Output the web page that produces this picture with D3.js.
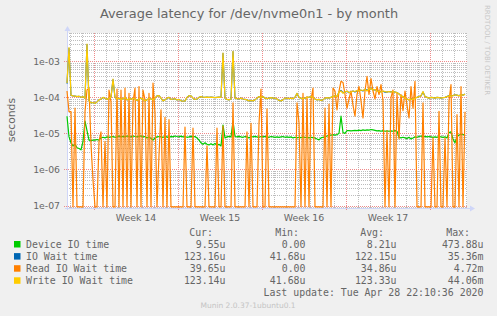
<!DOCTYPE html>
<html>
<head>
<meta charset="utf-8">
<script src="https://cdn.jsdelivr.net/npm/d3@7"></script>
<style>
  body { margin: 0; background: #f0f0f0; }
  svg text { font-family: "DejaVu Sans", sans-serif; fill: #666666; }
  svg text.mono { font-family: "DejaVu Sans Mono", monospace; }
</style>
</head>
<body>
<div id="chart"></div>
<script>
// series values in microseconds, one sample every 4 hours (0 = no reads)
var deviceIO = [
  30,8,5.5,4.5,5,4,3.8,3.5,6,22,
  12,6.5,6.3,6.5,6.5,6.8,6.5,7.5,7.8,7.5,
  8,7.8,8,8.2,7.8,8,8.5,8,8.3,8,
  8.5,8.2,8,8.5,8.2,8,8.3,8.5,8,8.2,
  7.5,8,7.2,6.5,7.5,8,8.2,8,7.8,8.2,
  8,7.5,8.3,8,8.5,8.2,8,8.4,8,8.2,
  7.8,8,8.3,8,8.2,7.5,6.5,5.5,5,5.5,
  5,4.8,5.2,4.8,5.3,4.6,5,4.5,17,7.5,
  8,8.3,8,22,8.2,8,8.3,8,7.8,8.2,
  8,7.5,8.2,8,8.3,8,7.8,8.2,8,8.3,
  8,7.8,8.2,8,7.8,8,7.8,8,8.2,7.8,
  8,7.8,8,7.5,7.8,7.5,7.8,7.6,8,7.7,
  7.8,7.5,7.8,7.6,7.5,7,6.6,7.5,7.8,8,
  8.5,8.8,9,9.2,9,9.3,10,30,10.5,10,
  12,12,11.8,12,12.2,12,12.3,12,12.5,12.2,
  12.5,12.3,12.8,12.5,12.2,11.8,12,11.5,12,11.5,
  11.8,11.5,11.8,11.5,12,11.5,7.8,7.5,7.8,7.5,
  7.2,7.8,7,7.5,8,7.8,8.2,8.5,8,8.3,
  8,8.2,8,7.8,8,7.8,8.2,8,7.8,8,
  7.5,10.5,11,7,5.5,8,9,9.5,9.2,9.55
];

var ioWait = [
  240,2300,114,110,108,105,107,100,104,95,
  2900,80,70,72,68,75,85,90,99,95,
  88,95,100,310,100,90,95,88,92,100,
  85,92,88,95,90,82,90,95,88,80,
  85,95,90,85,95,110,112,95,80,85,
  95,100,88,90,92,85,88,80,78,80,
  100,112,110,95,88,90,100,105,102,100,
  102,100,102,100,98,100,102,100,1650,95,
  88,85,90,1850,95,92,90,95,90,88,
  85,80,82,80,85,95,105,100,105,95,
  92,95,98,95,95,90,82,80,85,95,
  95,92,95,92,100,128,100,95,92,95,
  100,102,105,100,90,85,88,82,85,95,
  98,95,100,105,110,105,140,155,135,140,
  148,135,142,150,140,152,155,158,150,168,
  160,165,180,160,162,155,145,145,148,140,
  140,145,142,145,140,135,125,110,105,95,
  90,85,92,88,98,100,105,110,140,105,
  100,95,100,98,95,100,98,95,98,100,
  105,112,112,112,118,115,110,120,115,123
];

var readWait = [
  150,40,40,0,50,0,0,0,0,41,
  160,180,5,0.5,0,0,6,11,0,6,
  0,160,75,0,0,170,0,160,0,180,
  0,130,0,75,180,0,200,0,160,85,
  0,130,0,250,37,0,2.5,45,0,28,
  0,24,0,0,0,0,0,0,0,15,
  0,0,0,14,0,0,0,0,0,0,
  4.5,0,0,0,0,14,0,0,16,0,
  0,0,0,70,0,0,0,0,0,0,
  11,0,19,0,0,0,19,170,0,0,
  48,0,0,0,0,0,0,0,0,0,
  0,0,0,0,0,70,20,0,130,0,
  105,0,85,180,0,0,0,0,0,50,
  0,65,0,180,150,45,150,280,260,120,
  50,90,150,60,30,120,200,80,27,150,
  380,120,330,150,90,200,120,225,80,0,
  12,0,100,160,0,130,7,120,43,150,
  60,27,200,50,280,0,0,0,70,0,
  0,0,0,7.5,0,0,41,0,0,7.5,
  0,80,225,0,0,33,0,200,0,40
];

var writeWait = [
  250,2400,115,110,108,105,108,100,105,95,
  3000,80,70,72,68,75,85,90,100,95,
  88,95,100,320,100,90,95,88,92,100,
  85,92,88,95,90,82,90,95,88,80,
  85,95,90,85,95,110,112,95,80,85,
  95,100,88,90,92,85,88,80,78,80,
  100,112,110,95,88,90,100,105,102,100,
  102,100,102,100,98,100,102,100,1700,95,
  88,85,90,1900,95,92,90,95,90,88,
  85,80,82,80,85,95,105,100,105,95,
  92,95,98,95,95,90,82,80,85,95,
  95,92,95,92,100,130,100,95,92,95,
  100,102,105,100,90,85,88,82,85,95,
  98,95,100,105,110,105,140,150,130,140,
  150,135,140,150,145,155,150,160,155,165,
  150,170,175,160,165,150,145,140,150,145,
  140,145,140,145,140,135,125,110,105,95,
  90,85,90,88,95,100,105,110,145,105,
  100,95,100,98,95,100,98,95,98,100,
  105,110,108,112,118,115,110,118,115,123
];

var seriesNames = ["Device IO time", "IO Wait time", "Read IO Wait time", "Write IO Wait time"];
var seriesColors = ["#00cc00", "#0066b3", "#ff8000", "#ffcc00"];
var curValues = ["9.55u", "123.16u", "39.65u", "123.14u"];
var minValues = ["0.00", "41.68u", "0.00", "41.68u"];
var avgValues = ["8.21u", "122.15u", "34.86u", "123.33u"];
var maxValues = ["473.88u", "35.36m", "4.72m", "44.06m"];

var weekLabels = ["Week 14", "Week 15", "Week 16", "Week 17"];
var weekStarts = [2.25, 9.25, 16.25, 23.25, 30.25]; // in days from graph start
var decades = [1e-7, 1e-6, 1e-5, 1e-4, 1e-3];

var sampleStep = 1 / 6; // days between samples

var svgWidth = 497;
var svgHeight = 316;

var svg = d3.select("#chart")
  .append("svg")
  .attr("width", svgWidth)
  .attr("height", svgHeight);

var plot = { left: 67, right: 467, top: 33, bottom: 208 };

var yMin = 8.53e-8;
var yMax = 6.1e-3;

var xScale = d3.scaleLinear()
  .domain([0, 33.3333])
  .range([plot.left, plot.right]);

var yScale = d3.scaleLog()
  .domain([yMin, yMax])
  .range([plot.bottom, plot.top]);

// zero readings sit on the floor line just above the axis
var yFloor = yScale.invert(plot.bottom - 1.2);

// canvas
svg.append("rect")
  .attr("x", plot.left)
  .attr("y", plot.top)
  .attr("width", plot.right - plot.left)
  .attr("height", plot.bottom - plot.top)
  .attr("fill", "#ffffff");

// minor grid
var minorY = [];
decades.concat([1e-8]).forEach(function(dec) {
  for (var m = 2; m <= 9; m++) {
    var v = m * dec;
    if (v > yMin && v < yMax) minorY.push(v);
  }
});
var dayLines = d3.range(0.25, 33.3, 1);

var gridGroup = svg.append("g");

gridGroup.selectAll(".minor-y")
  .data(minorY)
  .enter()
  .append("line")
  .attr("x1", plot.left)
  .attr("x2", plot.right)
  .attr("y1", d => Math.round(yScale(d)) + 0.5)
  .attr("y2", d => Math.round(yScale(d)) + 0.5)
  .attr("stroke", "#bdbdbd")
  .attr("stroke-dasharray", "1,1");

gridGroup.selectAll(".minor-x")
  .data(dayLines)
  .enter()
  .append("line")
  .attr("x1", d => Math.round(xScale(d)) + 0.5)
  .attr("x2", d => Math.round(xScale(d)) + 0.5)
  .attr("y1", plot.top)
  .attr("y2", plot.bottom)
  .attr("stroke", "#bdbdbd")
  .attr("stroke-dasharray", "1,1");

// major grid
gridGroup.selectAll(".major-y")
  .data(decades)
  .enter()
  .append("line")
  .attr("x1", plot.left - 3)
  .attr("x2", plot.right)
  .attr("y1", d => Math.round(yScale(d)) + 0.5)
  .attr("y2", d => Math.round(yScale(d)) + 0.5)
  .attr("stroke", "#ee8a8a")
  .attr("stroke-dasharray", "1,1");

gridGroup.selectAll(".major-x")
  .data(weekStarts)
  .enter()
  .append("line")
  .attr("x1", d => Math.round(xScale(d)) + 0.5)
  .attr("x2", d => Math.round(xScale(d)) + 0.5)
  .attr("y1", plot.top)
  .attr("y2", plot.bottom + 3)
  .attr("stroke", "#ee8a8a")
  .attr("stroke-dasharray", "1,1");

// axes with arrows
var axisColor = "#cfd6f8";
svg.append("line")
  .attr("x1", plot.left - 2).attr("x2", plot.right + 5)
  .attr("y1", plot.bottom + 0.5).attr("y2", plot.bottom + 0.5)
  .attr("stroke", axisColor);
svg.append("path")
  .attr("d", `M${plot.right + 3},${plot.bottom - 2.5} L${plot.right + 8},${plot.bottom + 0.5} L${plot.right + 3},${plot.bottom + 3.5} Z`)
  .attr("fill", axisColor);
svg.append("line")
  .attr("x1", plot.left + 0.5).attr("x2", plot.left + 0.5)
  .attr("y1", plot.bottom + 2).attr("y2", plot.top - 5)
  .attr("stroke", axisColor);
svg.append("path")
  .attr("d", `M${plot.left - 2.5},${plot.top - 2} L${plot.left + 0.5},${plot.top - 7} L${plot.left + 3.5},${plot.top - 2} Z`)
  .attr("fill", axisColor);

// data lines, drawn in munin order
var line = d3.line()
  .x((d, i) => xScale(i * sampleStep))
  .y(d => yScale(Math.max(d * 1e-6, yFloor)));

var allSeries = [deviceIO, ioWait, readWait, writeWait];

svg.append("g")
  .selectAll("path")
  .data(allSeries)
  .enter()
  .append("path")
  .attr("d", d => line(d))
  .attr("fill", "none")
  .attr("stroke", (d, i) => seriesColors[i])
  .attr("stroke-width", 1.2)
  .attr("stroke-linejoin", "round");

// y tick labels
svg.append("g")
  .selectAll("text")
  .data(decades)
  .enter()
  .append("text")
  .attr("x", 60)
  .attr("y", d => yScale(d) + 3.4)
  .attr("text-anchor", "end")
  .style("font-size", "9.3px")
  .text(d => "1e-" + String(-Math.round(Math.log10(d))).padStart(2, "0"));

// week labels
svg.append("g")
  .selectAll("text")
  .data(weekLabels)
  .enter()
  .append("text")
  .attr("x", (d, i) => xScale(weekStarts[i] + 3.5))
  .attr("y", 220.5)
  .attr("text-anchor", "middle")
  .style("font-size", "9.4px")
  .text(d => d);

// title and axis label
svg.append("text")
  .attr("x", 249)
  .attr("y", 17.8)
  .attr("text-anchor", "middle")
  .style("font-size", "12.9px")
  .text("Average latency for /dev/nvme0n1 - by month");

svg.append("text")
  .attr("transform", "translate(15,120) rotate(-90)")
  .attr("text-anchor", "middle")
  .style("font-size", "10.8px")
  .text("seconds");

svg.append("text")
  .attr("transform", "translate(485,5) rotate(90)")
  .style("font-size", "7px")
  .style("fill", "#c8c8c8")
  .text("RRDTOOL / TOBI OETIKER");

// legend
var legend = svg.append("g");
var headerY = 236;
var rowY = d => 248 + d * 12.1;

[["Cur:", 213], ["Min:", 299], ["Avg:", 384], ["Max:", 470]].forEach(function(h) {
  legend.append("text")
    .attr("class", "mono")
    .attr("x", h[1])
    .attr("y", headerY)
    .attr("text-anchor", "end")
    .style("font-size", "9.9px")
    .text(h[0]);
});

seriesNames.forEach(function(name, i) {
  legend.append("rect")
    .attr("x", 14)
    .attr("y", rowY(i) - 7)
    .attr("width", 6.5)
    .attr("height", 6.5)
    .attr("fill", seriesColors[i]);

  legend.append("text")
    .attr("class", "mono")
    .attr("x", 26)
    .attr("y", rowY(i))
    .style("font-size", "9.9px")
    .text(name);

  [[curValues, 225.5], [minValues, 305.5], [avgValues, 396.5], [maxValues, 483.5]].forEach(function(col) {
    legend.append("text")
      .attr("class", "mono")
      .attr("x", col[1])
      .attr("y", rowY(i))
      .attr("text-anchor", "end")
      .style("font-size", "9.9px")
      .text(col[0][i]);
  });
});

legend.append("text")
  .attr("class", "mono")
  .attr("x", 483.5)
  .attr("y", rowY(4))
  .attr("text-anchor", "end")
  .style("font-size", "9.9px")
  .text("Last update: Tue Apr 28 22:10:36 2020");

svg.append("text")
  .attr("x", 248)
  .attr("y", 308)
  .attr("text-anchor", "middle")
  .style("font-size", "7.5px")
  .style("fill", "#c4c4c4")
  .text("Munin 2.0.37-1ubuntu0.1");
</script>
</body>
</html>
